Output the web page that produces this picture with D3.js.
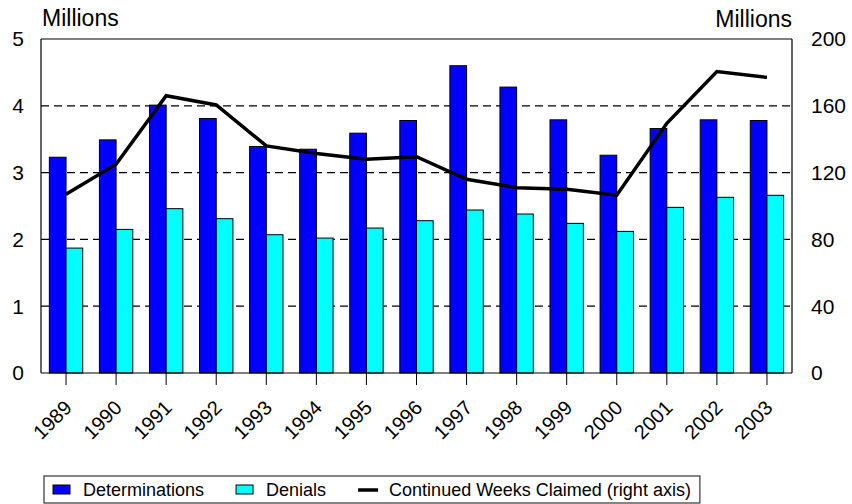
<!DOCTYPE html>
<html><head><meta charset="utf-8">
<script src="https://cdn.jsdelivr.net/npm/d3@7"></script>
<style>body{margin:0;background:#fff}svg{display:block}text{font-family:Arial,"Liberation Sans",sans-serif;fill:#000}</style>
</head><body>
<svg id="c" width="852" height="504"></svg>
<script>
const years = ["1989","1990","1991","1992","1993","1994","1995","1996","1997","1998","1999","2000","2001","2002","2003"];
const determinations = [3.23,3.49,4.01,3.81,3.39,3.35,3.59,3.78,4.60,4.28,3.79,3.26,3.66,3.79,3.78];
const denials = [1.87,2.15,2.46,2.31,2.07,2.02,2.17,2.28,2.44,2.38,2.24,2.12,2.48,2.63,2.66];
const continuedWeeks = [107,125,166,160.5,136,131.5,128,129.5,116,111,110,106.5,149.5,180.5,177];
const leftTicks = [0,1,2,3,4,5];
const rightTicks = [0,40,80,120,160,200];
const seriesNames = ["Determinations","Denials","Continued Weeks Claimed (right axis)"];

const svg = d3.select("#c");
const L = 41, R = 792, T = 39, B = 373;
const x = d3.scaleBand().domain(years).range([L, R]).padding(0);
const yL = d3.scaleLinear().domain([0,5]).range([B, T]);
const yR = d3.scaleLinear().domain([0,200]).range([B, T]);
const bw = x.bandwidth() / 3;
const cxOf = d => x(d) + x.bandwidth() / 2;

// gridlines
svg.append("g").selectAll("line").data(leftTicks.filter(d => d > 0 && d < 5)).join("line")
  .attr("x1", L).attr("x2", R).attr("y1", d => yL(d)).attr("y2", d => yL(d))
  .attr("stroke", "#000").attr("stroke-width", 1.2).attr("stroke-dasharray", "8,5");

// bars
const gb = svg.append("g");
gb.selectAll("rect.det").data(years).join("rect").attr("class","det")
  .attr("x", d => cxOf(d) - bw).attr("width", bw)
  .attr("y", (d,i) => yL(determinations[i])).attr("height", (d,i) => B - yL(determinations[i]))
  .attr("fill", "#0000FF").attr("stroke", "#000").attr("stroke-width", 1);
gb.selectAll("rect.den").data(years).join("rect").attr("class","den")
  .attr("x", d => cxOf(d)).attr("width", bw)
  .attr("y", (d,i) => yL(denials[i])).attr("height", (d,i) => B - yL(denials[i]))
  .attr("fill", "#00FFFF").attr("stroke", "#000").attr("stroke-width", 1);

// frame
const fr = svg.append("g").attr("stroke","#000").attr("stroke-width",1.2);
fr.append("line").attr("x1", L).attr("x2", R).attr("y1", T).attr("y2", T);
fr.append("line").attr("x1", L).attr("x2", L).attr("y1", T).attr("y2", B);
fr.append("line").attr("x1", R).attr("x2", R).attr("y1", T).attr("y2", B);
fr.append("line").attr("x1", L).attr("x2", R).attr("y1", B).attr("y2", B);

// line series
const line = d3.line().x((d,i) => cxOf(years[i])).y(d => yR(d));
svg.append("path").datum(continuedWeeks).attr("d", line)
  .attr("fill","none").attr("stroke","#000").attr("stroke-width",3.5);

// x axis ticks & labels
const gx = svg.append("g");
gx.selectAll("line").data(years).join("line")
  .attr("x1", cxOf).attr("x2", cxOf)
  .attr("y1", B).attr("y2", B + 12).attr("stroke","#000").attr("stroke-width",1);
gx.selectAll("text").data(years).join("text")
  .attr("transform", d => `translate(${cxOf(d) + 7},${B + 36}) rotate(-45)`)
  .attr("text-anchor","end").attr("font-size", 20).text(d => d);

// axis labels
svg.append("g").selectAll("text").data(leftTicks).join("text")
  .attr("x", 24).attr("y", d => yL(d)).attr("dy","0.35em").attr("text-anchor","end")
  .attr("font-size", 21).text(d => d);
svg.append("g").selectAll("text").data(rightTicks).join("text")
  .attr("x", 811).attr("y", d => yR(d)).attr("dy","0.35em").attr("text-anchor","start")
  .attr("font-size", 21).text(d => d);

svg.append("text").attr("x", 42).attr("y", 26).attr("font-size", 23).text("Millions");
svg.append("text").attr("x", 792).attr("y", 27).attr("font-size", 23).attr("text-anchor","end").text("Millions");

// legend
const lg = svg.append("g");
const fs = 18;
let cx = 53;
const ly = 490;
seriesNames.forEach((name, i) => {
  if (i < 2) {
    lg.append("rect").attr("x", cx).attr("y", ly - 5).attr("width", 17).attr("height", 9)
      .attr("fill", i === 0 ? "#0000FF" : "#00FFFF").attr("stroke","#000").attr("stroke-width",1);
    cx += 30;
  } else {
    lg.append("line").attr("x1", cx).attr("x2", cx + 20).attr("y1", ly).attr("y2", ly)
      .attr("stroke","#000").attr("stroke-width",3.5);
    cx += 31;
  }
  const t = lg.append("text").attr("x", cx).attr("y", ly).attr("dy","0.35em").attr("font-size", fs).text(name);
  cx += t.node().getComputedTextLength() + 32;
});
const endX = cx - 32 + 9;
lg.insert("rect", ":first-child").attr("x", 44).attr("y", 476).attr("width", endX - 44).attr("height", 27)
  .attr("fill","#fff").attr("stroke","#333").attr("stroke-width",1.2);
</script>
</body></html>
